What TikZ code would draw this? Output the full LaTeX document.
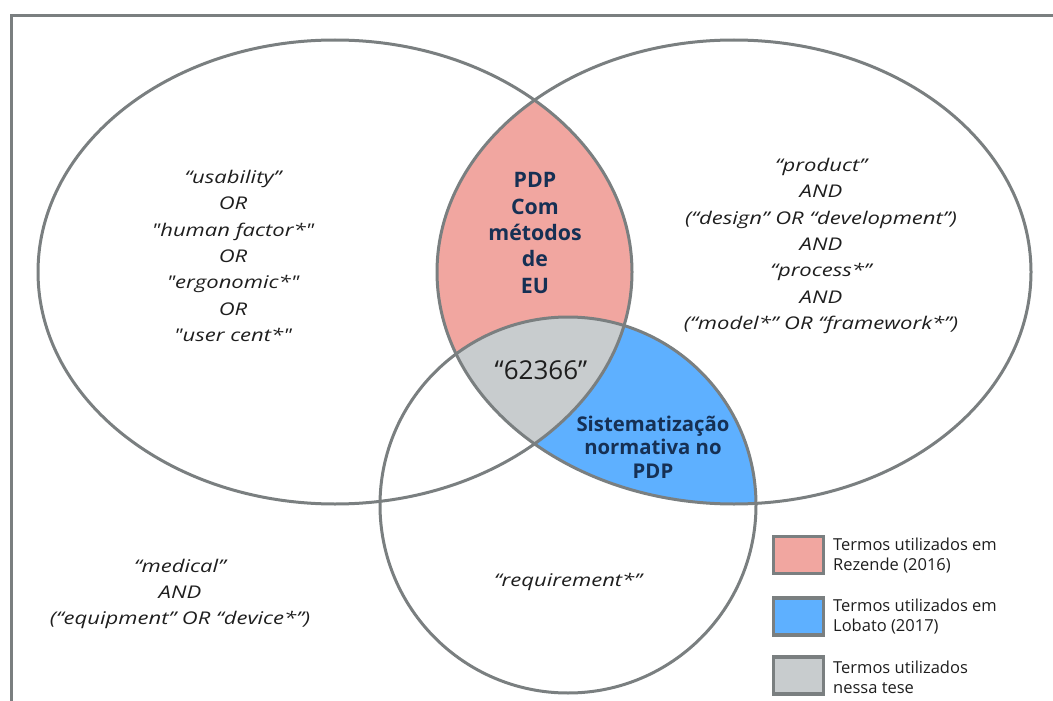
\documentclass[tikz,border=0pt]{standalone}
\usepackage{fontspec}
\setmainfont{Open Sans}[Ligatures=TeXOff]
% wide cut used for the search strings
\newfontfamily\termfont{Open Sans}[Ligatures=TeXOff, FakeStretch=1.26]
\definecolor{edgegray}{RGB}{122,127,128}
\definecolor{pinkfill}{RGB}{241,166,160}
\definecolor{bluefill}{RGB}{94,176,255}
\definecolor{grayfill}{RGB}{200,204,206}
\definecolor{navy}{RGB}{22,48,84}
\definecolor{inkdark}{RGB}{30,30,30}
\tikzset{
  setline/.style={draw=edgegray, line width=3pt},
  termtext/.style={align=center, text=inkdark, inner sep=0pt,
    font=\termfont\fontsize{17.5}{26.4}\selectfont\itshape},
  areatext/.style={align=center, text=navy, inner sep=0pt,
    font=\fontsize{21.3}{26.3}\selectfont\bfseries},
  legbox/.style={draw=edgegray, line width=3.5pt, minimum width=50pt,
    minimum height=37pt, inner sep=0pt},
  legtext/.style={anchor=west, align=left, text=inkdark, inner sep=0pt,
    font=\fontsize{16.5}{20}\selectfont},
}
\begin{document}
\begin{tikzpicture}[x=1pt, y=-1pt]
\useasboundingbox (0,0) rectangle (1053,701);

% frame (top and left edges)
\draw[draw=edgegray, line width=3pt] (10,15.5) -- (1053,15.5);
\draw[draw=edgegray, line width=3pt] (11.5,15.5) -- (11.5,701);

% set shapes
\def\leftset{(335,272) ellipse [x radius=297pt, y radius=232pt]}
\def\rightset{(734,272) ellipse [x radius=297pt, y radius=232pt]}
\def\lowset{(568,505) circle [radius=188pt]}

% left ∩ right
\begin{scope}
  \clip \leftset;
  \fill[pinkfill] \rightset;
\end{scope}
% right ∩ low
\begin{scope}
  \clip \rightset;
  \fill[bluefill] \lowset;
\end{scope}
% left ∩ right ∩ low
\begin{scope}
  \clip \leftset;
  \clip \rightset;
  \fill[grayfill] \lowset;
\end{scope}

% outlines
\draw[setline] \leftset;
\draw[setline] \rightset;
\draw[setline] \lowset;

% search terms
\node[termtext] (usab) at (233,256)
  {“usability”\\OR\\"human factor*"\\OR\\"ergonomic*"\\OR\\"user cent*"};
\node[termtext] (prod) at (821,246)
  {“product”\\AND\\(“design” OR “development”)\\AND\\“process*”\\AND\\(“model*” OR “framework*”)};
\node[termtext] (med) at (180,594)
  {“medical”\\AND\\(“equipment” OR “device*”)};
\node[termtext] (req) at (568,582) {“requirement*”};

% intersection labels
\node[areatext] (pdp) at (535,233) {PDP\\Com\\métodos\\de\\EU};
\node[inner sep=0pt, text=inkdark, font=\fontsize{26}{30}\selectfont] (num) at (541,370) {“62366”};
\node[areatext, font=\fontsize{20.3}{23.5}\selectfont\bfseries] (sist) at (653,447)
  {Sistematização\\normativa no\\PDP};

% legend
\node[legbox, fill=pinkfill] (leg1) at (798.5,555) {};
\node[legbox, fill=bluefill] (leg2) at (798.5,616.5) {};
\node[legbox, fill=grayfill] (leg3) at (798.5,675.5) {};
\node[legtext] (legt1) at (833,556) {Termos utilizados em\\Rezende (2016)};
\node[legtext] (legt2) at (833,617) {Termos utilizados em\\Lobato (2017)};
\node[legtext] (legt3) at (833,677) {Termos utilizados\\nessa tese};
\end{tikzpicture}
\end{document}
